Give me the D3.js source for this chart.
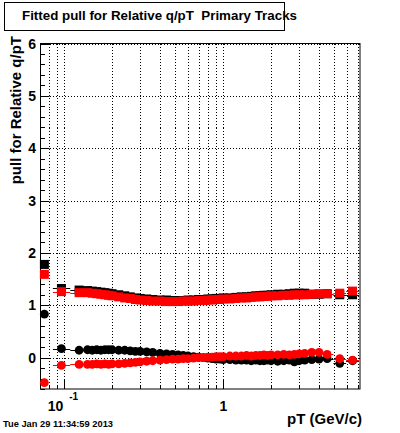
<!DOCTYPE html>
<meta charset="utf-8">
<head>
  <title>Fitted pull for Relative q/pT</title>
</head>

<style>
body {
  margin: 0;
  background: #fff;
  font-family: "Liberation Sans", Arial, Helvetica, sans-serif;
}
text { font-weight: bold; fill: #000; white-space: pre; }
.grid line { stroke: #000; stroke-width: 1; stroke-dasharray: 1,2; shape-rendering: crispEdges; }
</style>

<body>
  <svg id="chart" width="400" height="433"></svg>

  <script src="https://cdnjs.cloudflare.com/ajax/libs/d3/7.8.5/d3.min.js"></script>

  <script>

  // pT bin centres (GeV/c)
  var pT = [0.075, 0.096, 0.124, 0.14, 0.15, 0.16, 0.17, 0.18, 0.19, 0.2,
            0.22, 0.24, 0.26, 0.28, 0.3, 0.33, 0.36, 0.4, 0.44, 0.48,
            0.52, 0.56, 0.6, 0.65, 0.7, 0.75, 0.8, 0.85, 0.9, 0.95,
            1.0, 1.1, 1.2, 1.3, 1.4, 1.5, 1.6, 1.7, 1.8, 1.9,
            2.0, 2.2, 2.4, 2.6, 2.8, 3.0, 3.25, 3.6, 4.0, 4.5,
            5.4, 6.5];

  // sigma of the pull (squares)
  var sigmaBlack = [1.78, 1.32, 1.29, 1.28, 1.27, 1.26, 1.25, 1.24, 1.23, 1.22,
                    1.20, 1.18, 1.16, 1.14, 1.13, 1.12, 1.11, 1.10, 1.10, 1.09,
                    1.09, 1.09, 1.10, 1.10, 1.11, 1.11, 1.12, 1.12, 1.13, 1.13,
                    1.14, 1.14, 1.15, 1.16, 1.16, 1.17, 1.18, 1.18, 1.19, 1.19,
                    1.20, 1.21, 1.21, 1.22, 1.23, 1.23, 1.23, 1.21, 1.21, 1.22,
                    1.20, 1.20];
  var sigmaRed   = [1.59, 1.26, 1.24, 1.24, 1.23, 1.22, 1.21, 1.20, 1.19, 1.18,
                    1.16, 1.14, 1.13, 1.11, 1.10, 1.09, 1.08, 1.08, 1.07, 1.07,
                    1.07, 1.08, 1.08, 1.08, 1.09, 1.09, 1.10, 1.10, 1.11, 1.11,
                    1.12, 1.12, 1.13, 1.14, 1.14, 1.15, 1.16, 1.16, 1.17, 1.17,
                    1.18, 1.18, 1.19, 1.19, 1.20, 1.20, 1.20, 1.21, 1.22, 1.22,
                    1.23, 1.27];

  // mean of the pull (circles)
  var meanBlack = [0.83, 0.17, 0.14, 0.15, 0.14, 0.15, 0.14, 0.15, 0.15, 0.15,
                   0.14, 0.14, 0.13, 0.12, 0.12, 0.11, 0.10, 0.08, 0.07, 0.06,
                   0.05, 0.04, 0.03, 0.02, 0.01, 0.00, -0.01, -0.02, -0.03, -0.03,
                   -0.04, -0.04, -0.05, -0.05, -0.05, -0.06, -0.05, -0.06, -0.06, -0.05,
                   -0.06, -0.07, -0.06, -0.05, -0.08, -0.06, -0.05, -0.04, -0.03, -0.02,
                   -0.11, -0.06];
  var meanRed   = [-0.48, -0.15, -0.13, -0.13, -0.13, -0.12, -0.13, -0.12, -0.13, -0.12,
                   -0.12, -0.11, -0.10, -0.09, -0.08, -0.07, -0.06, -0.05, -0.04, -0.03,
                   -0.03, -0.02, -0.02, -0.01, 0.00, 0.00, 0.01, 0.01, 0.02, 0.02,
                   0.02, 0.03, 0.03, 0.03, 0.04, 0.03, 0.04, 0.04, 0.05, 0.04,
                   0.05, 0.05, 0.06, 0.05, 0.06, 0.07, 0.08, 0.10, 0.10, 0.06,
                   -0.02, -0.05];

  var yTicks = [0, 1, 2, 3, 4, 5, 6];
  var xTicks = [0.08, 0.09, 0.1, 0.2, 0.3, 0.4, 0.5, 0.6, 0.7, 0.8, 0.9,
                1, 2, 3, 4, 5, 6, 7];
  var xMajor = [0.1, 1];

  var frame = {left: 40.5, right: 360, top: 43.5, bottom: 389};

  var svg = d3.select('#chart');

  var x = d3.scaleLog()
    .domain([0.0709, 7.24])
    .range([frame.left, frame.right]);

  var y = d3.scaleLinear()
    .domain([-0.6, 6])
    .range([frame.bottom, frame.top]);

  // title box
  svg.append('rect')
    .attr('x', 4.5).attr('y', 2.5)
    .attr('width', 280).attr('height', 28)
    .attr('fill', '#fff').attr('stroke', '#000');
  svg.append('text')
    .attr('x', 22).attr('y', 20)
    .attr('font-size', 13)
    .attr('xml:space', 'preserve')
    .attr('textLength', 275).attr('lengthAdjust', 'spacingAndGlyphs')
    .text('Fitted pull for Relative q/pT  Primary Tracks');

  // grid
  var grid = svg.append('g').attr('class', 'grid');
  grid.selectAll('line.gx')
    .data(xTicks)
    .enter().append('line')
    .attr('class', 'gx')
    .attr('x1', d => Math.round(x(d)) + 0.5).attr('x2', d => Math.round(x(d)) + 0.5)
    .attr('y1', frame.top).attr('y2', frame.bottom);
  grid.selectAll('line.gy')
    .data(yTicks)
    .enter().append('line')
    .attr('class', 'gy')
    .attr('y1', d => Math.round(y(d)) + 0.5).attr('y2', d => Math.round(y(d)) + 0.5)
    .attr('x1', frame.left).attr('x2', frame.right);

  // frame
  svg.append('rect')
    .attr('x', frame.left).attr('y', frame.top)
    .attr('width', frame.right - frame.left)
    .attr('height', frame.bottom - frame.top)
    .attr('fill', 'none').attr('stroke', '#000');

  // y axis ticks (inside the frame)
  var yMinor = d3.range(-0.6, 6.001, 0.2).map(v => +v.toFixed(1));
  svg.append('g').selectAll('line')
    .data(yMinor)
    .enter().append('line')
    .attr('x1', frame.left)
    .attr('x2', d => frame.left + (Math.abs(d - Math.round(d)) < 1e-6 ? 9 : 4.5))
    .attr('y1', d => Math.round(y(d)) + 0.5).attr('y2', d => Math.round(y(d)) + 0.5)
    .attr('stroke', '#000');

  svg.append('g').selectAll('text')
    .data(yTicks)
    .enter().append('text')
    .attr('x', 36).attr('y', d => y(d) + 5)
    .attr('text-anchor', 'end')
    .attr('font-size', 14)
    .text(d => d);

  // x axis ticks (inside the frame)
  svg.append('g').selectAll('line')
    .data(xTicks)
    .enter().append('line')
    .attr('x1', d => Math.round(x(d)) + 0.5).attr('x2', d => Math.round(x(d)) + 0.5)
    .attr('y1', frame.bottom)
    .attr('y2', d => frame.bottom - (xMajor.includes(d) ? 9 : 4))
    .attr('stroke', '#000');

  svg.append('text')
    .attr('x', x(0.1) - 1).attr('y', 411)
    .attr('text-anchor', 'end')
    .attr('font-size', 14)
    .text('10');
  svg.append('text')
    .attr('x', x(0.1) + 5).attr('y', 400)
    .attr('font-size', 10)
    .text('-1');
  svg.append('text')
    .attr('x', x(1)).attr('y', 411)
    .attr('text-anchor', 'middle')
    .attr('font-size', 14)
    .text('1');

  // axis titles
  svg.append('text')
    .attr('x', 362).attr('y', 424)
    .attr('text-anchor', 'end')
    .attr('font-size', 15)
    .text('pT (GeV/c)');
  svg.append('text')
    .attr('transform', 'translate(21,36) rotate(-90)')
    .attr('text-anchor', 'end')
    .attr('font-size', 15)
    .text('pull for Relative q/pT');

  // date stamp
  svg.append('text')
    .attr('x', 3).attr('y', 427)
    .attr('font-size', 8.5)
    .attr('textLength', 110).attr('lengthAdjust', 'spacingAndGlyphs')
    .text('Tue Jan 29 11:34:59 2013');

  // bin half widths (geometric midpoints between neighbouring centres)
  function binLo(i) { return i === 0 ? pT[0] : Math.sqrt(pT[i - 1] * pT[i]); }
  function binHi(i) { return i === 0 ? pT[0] : (i === pT.length - 1 ? pT[i] * Math.sqrt(pT[i] / pT[i - 1]) : Math.sqrt(pT[i] * pT[i + 1])); }

  function drawSeries(values, color, shape) {
    var g = svg.append('g');
    var pts = pT.map((p, i) => ({p: p, v: values[i], i: i}));
    g.selectAll('line')
      .data(pts)
      .enter().append('line')
      .attr('x1', d => x(binLo(d.i))).attr('x2', d => x(binHi(d.i)))
      .attr('y1', d => Math.round(y(d.v)) + 0.5).attr('y2', d => Math.round(y(d.v)) + 0.5)
      .attr('stroke', color);
    if (shape === 'square') {
      g.selectAll('rect')
        .data(pts)
        .enter().append('rect')
        .attr('x', d => x(d.p) - 4.5).attr('y', d => y(d.v) - 4.5)
        .attr('width', 9).attr('height', 9)
        .attr('fill', color);
    } else {
      g.selectAll('circle')
        .data(pts)
        .enter().append('circle')
        .attr('cx', d => x(d.p)).attr('cy', d => y(d.v))
        .attr('r', 4.4)
        .attr('fill', color);
    }
  }

  drawSeries(sigmaBlack, '#000', 'square');
  drawSeries(meanBlack, '#000', 'circle');
  drawSeries(sigmaRed, '#f00', 'square');
  drawSeries(meanRed, '#f00', 'circle');

  </script>
</body>
</html>
